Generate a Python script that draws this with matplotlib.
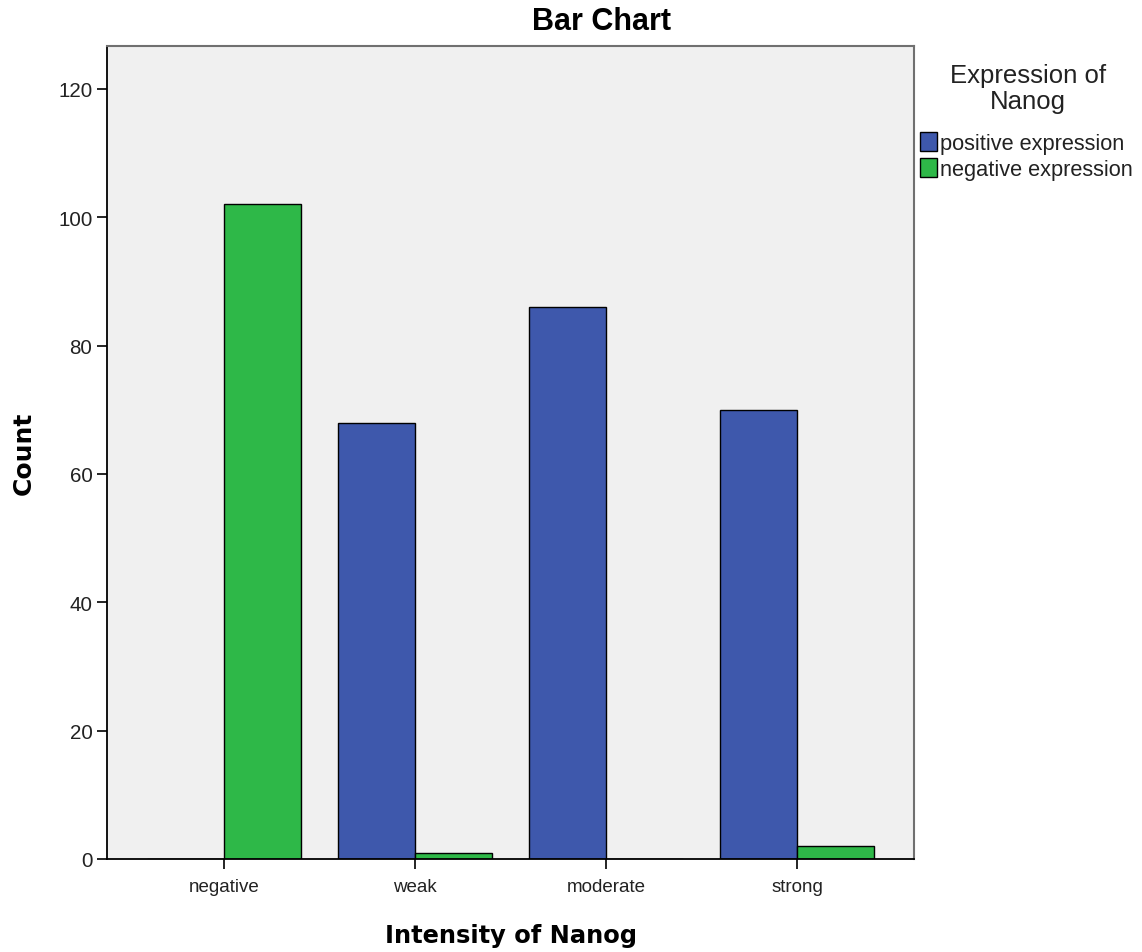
import numpy as np
import matplotlib.pyplot as plt
from matplotlib.patches import Patch

# Data
categories = ["negative", "weak", "moderate", "strong"]
positive_counts = [0, 68, 86, 70]
negative_counts = [102, 1, 0, 2]
series_names = ["positive expression", "negative expression"]
y_ticks = [0, 20, 40, 60, 80, 100, 120]

blue = "#3e58ac"
green = "#2eb848"

fig = plt.figure(figsize=(11.42, 9.53), dpi=100)
ax = fig.add_axes([0.0937, 0.0976, 0.7067, 0.8531])
ax.set_facecolor("#f0f0f0")

x = np.arange(len(categories))
w = 0.403
ax.bar(x - w / 2, positive_counts, w, color=blue, edgecolor="black", linewidth=1)
ax.bar(x + w / 2, negative_counts, w, color=green, edgecolor="black", linewidth=1)

ax.set_xlim(-0.613, 3.613)
ax.set_ylim(0, 126.7)
ax.set_xticks(x)
ax.set_xticklabels(categories, fontsize=13.5, family="Liberation Sans", color="#222222")
ax.set_yticks(y_ticks)
ax.set_yticklabels([str(t) for t in y_ticks], fontsize=14.8, family="Liberation Sans", color="#222222")
ax.tick_params(axis="both", direction="out", length=7, width=1.2, color="black")
ax.tick_params(axis="x", pad=7)

for side in ["left", "bottom"]:
    ax.spines[side].set_color("black")
    ax.spines[side].set_linewidth(1.3)
for side in ["top", "right"]:
    ax.spines[side].set_color("#707070")
    ax.spines[side].set_linewidth(1.5)

# title sits centred on the whole chart, not on the plot area
fig.text(0.527, 0.977, "Bar Chart", fontsize=22, fontweight="bold",
         family="Liberation Sans", ha="center", va="center")
ax.set_xlabel("Intensity of Nanog", fontsize=17.4, fontweight="bold", family="DejaVu Sans", labelpad=20)
ax.set_ylabel("Count", fontsize=18, fontweight="bold", family="DejaVu Sans", labelpad=16)

# legend title drawn separately to get the gap above the entries
fig.text(0.900, 0.907, "Expression of\nNanog", fontsize=18.5, family="Liberation Sans",
         color="#222222", ha="center", va="center", multialignment="center", linespacing=1.1)
handles = [Patch(facecolor=blue, edgecolor="black", linewidth=1),
           Patch(facecolor=green, edgecolor="black", linewidth=1)]
leg = fig.legend(handles, series_names, loc="upper left",
                 bbox_to_anchor=(0.8015, 0.865), frameon=False,
                 prop={"family": "Liberation Sans", "size": 15.7},
                 handlelength=0.8, handleheight=0.95, handletextpad=0.15,
                 labelspacing=0.2, borderpad=0.2, borderaxespad=0)
for t in leg.get_texts():
    t.set_color("#222222")

fig.savefig("out.png", dpi=100)
